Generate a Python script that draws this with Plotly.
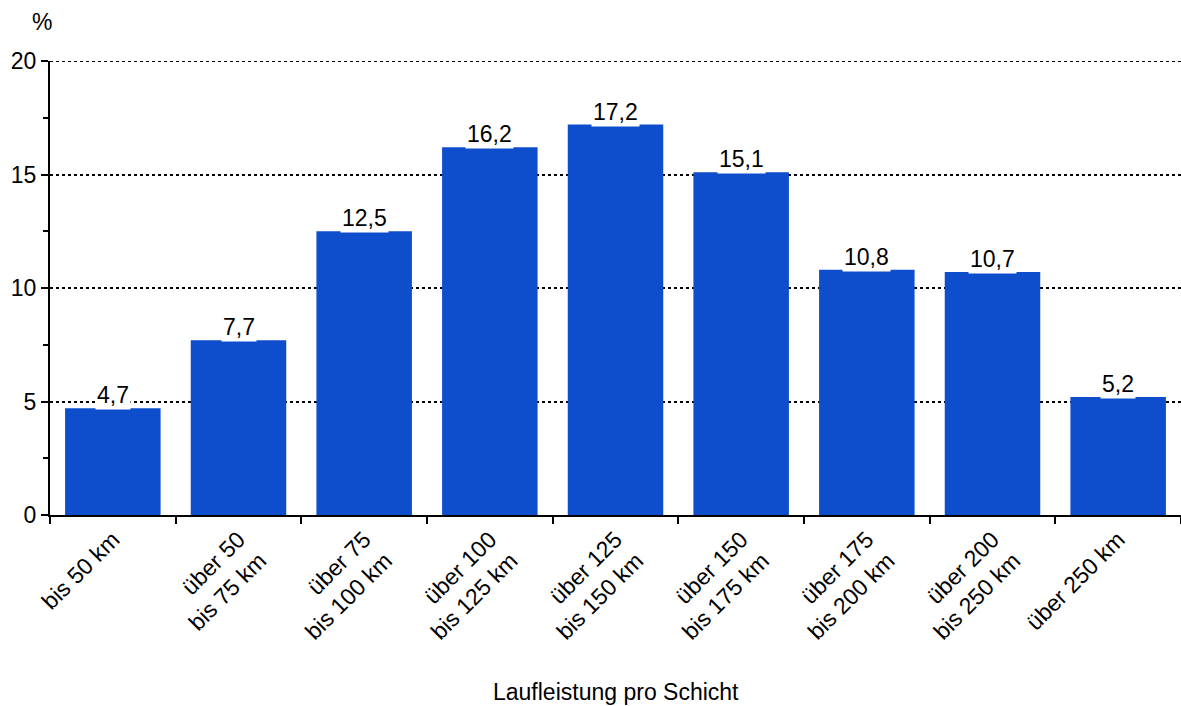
import plotly.graph_objects as go

categories = ["bis 50 km", "über 50<br>bis 75 km", "über 75<br>bis 100 km", "über 100<br>bis 125 km",
              "über 125<br>bis 150 km", "über 150<br>bis 175 km", "über 175<br>bis 200 km",
              "über 200<br>bis 250 km", "über 250 km"]
values = [4.7, 7.7, 12.5, 16.2, 17.2, 15.1, 10.8, 10.7, 5.2]
labels = ["4,7", "7,7", "12,5", "16,2", "17,2", "15,1", "10,8", "10,7", "5,2"]
y_ticks = [0, 5, 10, 15, 20]

FONT = "Liberation Sans, Arial, sans-serif"
FS = 23

fig = go.Figure(go.Bar(x=categories, y=values, marker=dict(color="#0E4ECC", line=dict(width=0)),
                       width=0.76, hoverinfo="skip"))

for c, v, t in zip(categories, values, labels):
    fig.add_annotation(x=c, y=v, text=t, showarrow=False, yanchor="bottom", yshift=-2,
                       bgcolor="white", borderpad=1, font=dict(family=FONT, size=FS, color="black"))

fig.add_annotation(xref="paper", yref="paper", x=-0.007, y=1.0, yshift=24, text="%", showarrow=False,
                   xanchor="center", yanchor="bottom", font=dict(family=FONT, size=FS, color="black"))

fig.add_annotation(xref="paper", yref="paper", x=0.5, y=0, yshift=-177, text="Laufleistung pro Schicht",
                   showarrow=False, xanchor="center", yanchor="middle",
                   font=dict(family=FONT, size=FS, color="black"))

# top gridline (at the axis range edge)
fig.add_shape(type="line", xref="paper", yref="y", x0=0, x1=1, y0=y_ticks[-1], y1=y_ticks[-1],
              line=dict(color="black", width=2, dash="dot"), layer="below")

fig.update_layout(
    width=1181, height=706,
    margin=dict(l=50, r=0, t=61, b=191),
    plot_bgcolor="white", paper_bgcolor="white",
    showlegend=False,
    font=dict(family=FONT, size=FS, color="black"),
    xaxis=dict(
        tickangle=-45, showline=True, linecolor="black", linewidth=2,
        ticks="outside", tickson="boundaries", ticklen=7, tickwidth=2, tickcolor="black",
        showgrid=False, automargin=False,
        range=[-0.5, 8.5],
    ),
    yaxis=dict(
        range=[0, 20], tickvals=y_ticks, showline=True, linecolor="black", linewidth=2,
        ticks="outside", ticklen=7, tickwidth=2, tickcolor="black",
        showgrid=True, gridcolor="black", gridwidth=1.5, griddash="dot",
        zeroline=False, automargin=False,
        minor=dict(dtick=2.5, ticks="outside", ticklen=5, tickwidth=1.5, tickcolor="black", showgrid=False),
    ),
)

fig.write_html("out.html", config={"displayModeBar": False},
               post_script="document.body.style.margin='0px';document.body.style.overflow='hidden';")
